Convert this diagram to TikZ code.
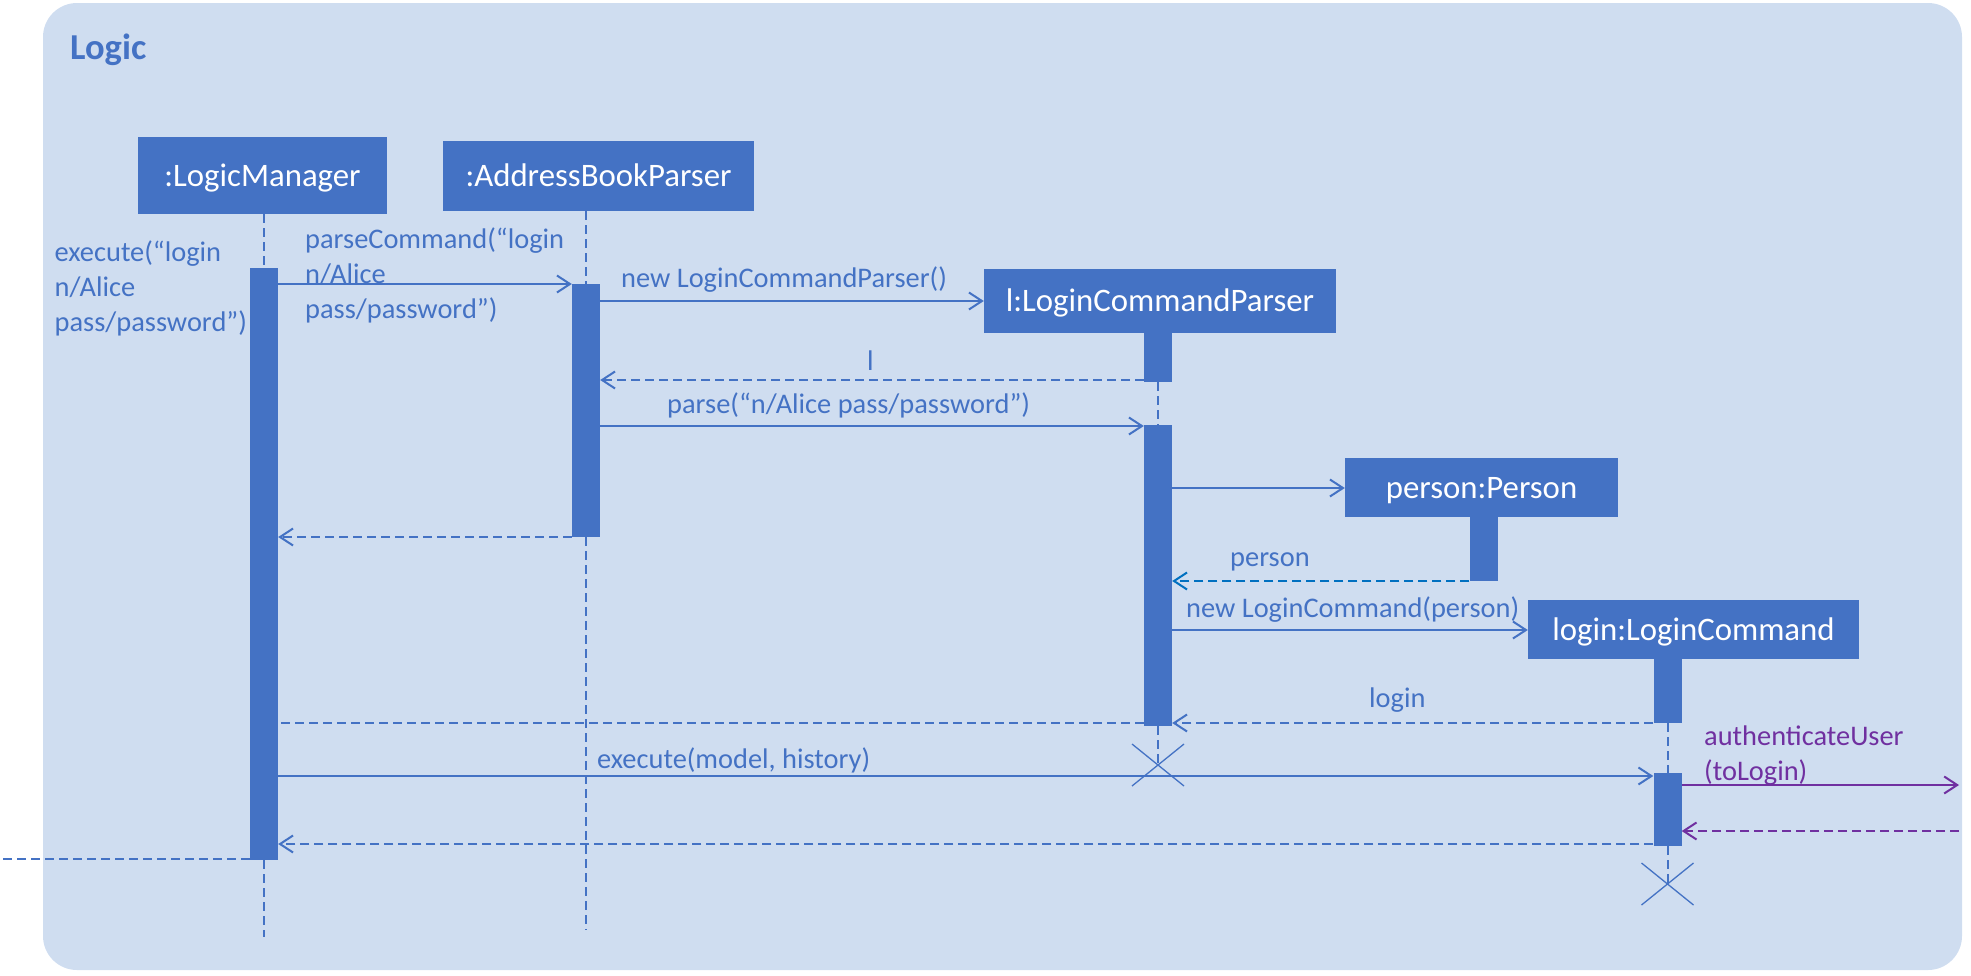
\documentclass[tikz,border=0pt]{standalone}
\usepackage{fontspec}
\setmainfont{Carlito}
\usetikzlibrary{arrows.meta,calc}
\definecolor{ublue}{HTML}{4472C4}
\definecolor{bgc}{RGB}{207,221,240}
\definecolor{pblue}{HTML}{0070C0}
\definecolor{purp}{HTML}{7030A0}
\begin{document}
\begin{tikzpicture}[x=1pt,y=-1pt,
  objbox/.style={fill=ublue, text=white, inner sep=0pt, font=\fontsize{32.8}{39}\selectfont, text height=21pt, text depth=0pt},
  actbar/.style={fill=ublue, inner sep=0pt, minimum width=28pt},
  life/.style={ublue, line width=2pt, dash pattern=on 9pt off 5pt},
  msg/.style={ublue, line width=2pt, -{Straight Barb[length=13pt,width=17pt]}},
  ret/.style={msg, dash pattern=on 9pt off 5pt},
  retplain/.style={ublue, line width=2pt, dash pattern=on 9pt off 5pt},
  lbl/.style={text=ublue, inner sep=0pt, anchor=base west, font=\fontsize{28.4}{34}\selectfont},
  xmark/.style={ublue, line width=1.3pt},
]
\useasboundingbox (0,0) rectangle (1971,975);
\fill[bgc, rounded corners=34pt] (43,3) rectangle (1962,970);

\node[anchor=base west, text=ublue, inner sep=0pt, font=\fontsize{36.5}{44}\selectfont\bfseries] (title) at (70,59) {Logic};

% objects
\node[objbox, minimum width=249pt, minimum height=77pt] (lm) at (262.5,175.5) {:LogicManager};
\node[objbox, minimum width=311pt, minimum height=70pt] (abp) at (598.5,176) {:AddressBookParser};
\node[objbox, minimum width=352pt, minimum height=64pt] (lcp) at (1160,301) {l:LoginCommandParser};
\node[objbox, minimum width=273pt, minimum height=59pt] (person) at (1481.5,487.5) {person:Person};
\node[objbox, minimum width=331pt, minimum height=59pt] (login) at (1693.5,629.5) {login:LoginCommand};

% activation bars
\node[actbar, minimum height=592pt] (lmbar) at (264,564) {};
\node[actbar, minimum height=253pt] (abpbar) at (586,410.5) {};
\node[actbar, minimum height=49pt] (lcpbar1) at (1158,357.5) {};
\node[actbar, minimum height=301pt] (lcpbar2) at (1158,575.5) {};
\node[actbar, minimum height=64pt] (perbar) at (1483.5,549) {};
\node[actbar, minimum height=64pt] (lcbar1) at (1667.5,691) {};
\node[actbar, minimum height=73pt] (lcbar2) at (1667.5,809.5) {};

% end points
\coordinate (lmend) at (264,937);
\coordinate (abpend) at (586,930);
\coordinate (lcpx) at (1158,765);
\coordinate (lcx) at (1667.5,884);
\coordinate (outL) at (0,859);
\coordinate (outR) at (1959,0);

% lifelines
\draw[life] (lmbar.north |- lm.south) -- (lmbar.north);
\draw[life] (lmbar.south) -- (lmend);
\draw[life] (abpbar.north |- abp.south) -- (abpbar.north);
\draw[life] (abpbar.south) -- (abpend);
\draw[life] (lcpbar1.south) -- (lcpbar2.north);
\draw[life] (lcpbar2.south) -- (lcpx);
\draw[life] (lcbar1.south) -- (lcbar2.north);
\draw[life] (lcbar2.south) -- (lcx);

% destruction marks
\draw[xmark] ($(lcpx)+(-26,-21)$) -- ($(lcpx)+(26,21)$);
\draw[xmark] ($(lcpx)+(-26,21)$) -- ($(lcpx)+(26,-21)$);
\draw[xmark] ($(lcx)+(-26,-21)$) -- ($(lcx)+(26,21)$);
\draw[xmark] ($(lcx)+(-26,21)$) -- ($(lcx)+(26,-21)$);

% message levels
\coordinate (y1) at (0,284);
\coordinate (y2) at (0,301);
\coordinate (y3) at (0,380);
\coordinate (y4) at (0,426);
\coordinate (y5) at (0,488);
\coordinate (y6) at (0,581);
\coordinate (y7) at (0,630);
\coordinate (y8) at (0,723);
\coordinate (y10) at (0,537);
\coordinate (y11) at (0,776);
\coordinate (y12) at (0,785);
\coordinate (y13) at (0,831);
\coordinate (y14) at (0,844);
\coordinate (y15) at (0,859);

% messages
\draw[msg] (lmbar.east |- y1) -- (abpbar.west |- y1);
\draw[msg] (abpbar.east |- y2) -- (lcp.west |- y2);
\draw[ret] (lcpbar1.west |- y3) -- (abpbar.east |- y3);
\draw[msg] (abpbar.east |- y4) -- (lcpbar2.west |- y4);
\draw[msg] (lcpbar2.east |- y5) -- (person.west |- y5);
\draw[ret, pblue] (perbar.west |- y6) -- (lcpbar2.east |- y6);
\draw[msg] (lcpbar2.east |- y7) -- (login.west |- y7);
\draw[ret] (lcbar1.west |- y8) -- (lcpbar2.east |- y8);
\draw[retplain] (lcpbar2.west |- y8) -- (lmbar.east |- y8);
\draw[ret] (abpbar.west |- y10) -- (lmbar.east |- y10);
\draw[msg] (lmbar.east |- y11) -- (lcbar2.west |- y11);
\draw[msg, purp] (lcbar2.east |- y12) -- (outR |- y12);
\draw[ret, purp] (outR |- y13) -- (lcbar2.east |- y13);
\draw[ret] (lcbar2.west |- y14) -- (lmbar.east |- y14);
\draw[retplain] (lmbar.west |- y15) -- (outL);

% labels
\node[lbl] (e1) at (54.5,261) {execute(“login};
\node[lbl] (e2) at (54.5,296) {n/Alice};
\node[lbl] (e3) at (54.5,331) {pass/password”)};
\node[lbl] (p1) at (305,248) {parseCommand(“login};
\node[lbl] (p2) at (305,283) {n/Alice};
\node[lbl] (p3) at (305,318) {pass/password”)};
\node[lbl] (nl) at (621,287) {new LoginCommandParser()};
\node[lbl] (ll) at (867,370) {l};
\node[lbl] (pa) at (667,413) {parse(“n/Alice pass/password”)};
\node[lbl] (pl) at (1230,566) {person};
\node[lbl] (nc) at (1186,617) {new LoginCommand(person)};
\node[lbl] (lg) at (1369,707) {login};
\node[lbl] (ex) at (597,768) {execute(model, history)};
\node[lbl, text=purp] (au1) at (1704,745) {authenticateUser};
\node[lbl, text=purp] (au2) at (1704,780) {(toLogin)};
\end{tikzpicture}
\end{document}
